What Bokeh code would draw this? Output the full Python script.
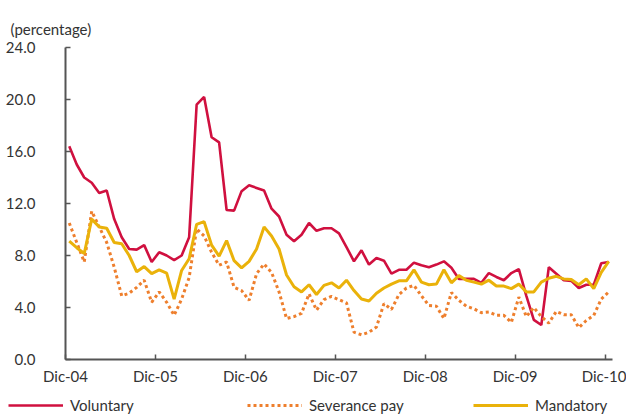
from bokeh.plotting import figure
from bokeh.layouts import column
from bokeh.models import (Range1d, FixedTicker, Legend, LegendItem,
                          ColumnDataSource, NumeralTickFormatter)
from bokeh.embed import file_html
from bokeh.resources import INLINE

# ---- data (monthly, Dec-2004 .. Dec-2010) ----
tick_labels = ["Dic-04", "Dic-05", "Dic-06", "Dic-07", "Dic-08", "Dic-09", "Dic-10"]
series_names = ["Voluntary", "Severance pay", "Mandatory"]

voluntary = [16.4, 15.0, 14.0, 13.6, 12.8, 13.0, 10.8, 9.4, 8.5, 8.45, 8.8, 7.5,
             8.25, 8.0, 7.65, 8.0, 9.4, 19.6, 20.2, 17.1, 16.7, 11.5, 11.45, 12.95,
             13.4, 13.2, 13.0, 11.6, 11.0, 9.6, 9.1, 9.6, 10.5, 9.9, 10.1, 10.1,
             9.7, 8.65, 7.55, 8.4, 7.3, 7.8, 7.6, 6.6, 6.9, 6.9, 7.45, 7.25,
             7.1, 7.3, 7.55, 7.05, 6.2, 6.2, 6.2, 5.9, 6.65, 6.35, 6.1, 6.65,
             6.95, 4.9, 3.05, 2.65, 7.1, 6.6, 6.1, 6.05, 5.5, 5.75, 5.75, 7.4,
             7.5]

severance = [10.5, 9.0, 7.5, 11.4, 10.2, 9.0, 7.1, 4.9, 5.1, 5.55, 6.1, 4.4,
             5.2, 4.4, 3.4, 4.65, 6.3, 10.05, 9.5, 8.25, 7.25, 7.5, 5.55, 5.3,
             4.55, 6.6, 7.35, 6.7, 5.2, 3.15, 3.3, 3.55, 5.05, 3.8, 4.6, 4.85,
             4.6, 4.35, 2.1, 1.9, 2.1, 2.5, 4.3, 3.85, 5.0, 5.5, 5.7, 4.9,
             4.15, 4.1, 3.15, 5.15, 4.55, 4.1, 3.9, 3.6, 3.65, 3.4, 3.4, 2.85,
             4.8, 3.3, 4.0, 3.3, 2.8, 3.7, 3.45, 3.45, 2.45, 3.0, 3.4, 4.65,
             5.2]

mandatory = [9.1, 8.6, 8.15, 10.8, 10.2, 10.1, 9.0, 8.9, 8.0, 6.75, 7.15, 6.6,
             6.9, 6.65, 4.65, 6.85, 7.75, 10.4, 10.6, 8.8, 7.95, 9.15, 7.6, 7.05,
             7.55, 8.5, 10.2, 9.5, 8.5, 6.5, 5.6, 5.2, 5.75, 5.0, 5.7, 5.9,
             5.5, 6.1, 5.3, 4.65, 4.5, 5.1, 5.5, 5.8, 6.05, 6.05, 6.9, 5.95,
             5.75, 5.8, 6.9, 5.9, 6.45, 6.1, 5.95, 5.8, 6.1, 5.65, 5.65, 5.45,
             5.8, 5.2, 5.2, 5.95, 6.25, 6.4, 6.2, 6.15, 5.75, 6.2, 5.45, 6.7,
             7.55]

n = len(voluntary)
xs = [i + 0.5 for i in range(n)]   # points centred between category boundaries

src = ColumnDataSource(dict(x=xs, vol=voluntary, sev=severance, man=mandatory))

FONT = "Lato"
TXT = "#333333"
AX = "#555555"
STYLES = [dict(line_color="#D0103F", line_width=2.6),
          dict(line_color="#EE7F2D", line_width=3, line_dash="3 3"),
          dict(line_color="#EAB20A", line_width=3)]
COLS = ["vol", "sev", "man"]

# ---------------- main chart ----------------
p = figure(width=626, height=392, x_range=Range1d(0, 73), y_range=Range1d(0, 24),
           output_backend="svg", toolbar_location=None,
           min_border_left=65, min_border_right=14, min_border_top=47,
           min_border_bottom=33)
p.frame_align = False
p.outline_line_color = None
p.xgrid.grid_line_color = None
p.ygrid.grid_line_color = None

p.title.text = "(percentage)"
p.title.align = "left"
p.title.offset = -55
p.title.standoff = 20
p.title.text_font = FONT
p.title.text_font_size = "15px"
p.title.text_font_style = "normal"
p.title.text_color = TXT

for col, st in zip(COLS, STYLES):
    p.line("x", col, source=src, **st)

p.xaxis.ticker = FixedTicker(ticks=[12 * k for k in range(len(tick_labels))])
p.xaxis.major_label_overrides = {12 * k: lab for k, lab in enumerate(tick_labels)}
p.yaxis.ticker = FixedTicker(ticks=[0, 4, 8, 12, 16, 20, 24])
p.yaxis.formatter = NumeralTickFormatter(format="0.0")

for ax in (p.xaxis[0], p.yaxis[0]):
    ax.axis_line_color = AX
    ax.axis_line_width = 2
    ax.major_tick_line_color = AX
    ax.major_tick_line_width = 1.5
    ax.minor_tick_line_color = None
    ax.major_tick_out = 0
    ax.major_tick_in = 5
    ax.major_label_text_font = FONT
    ax.major_label_text_font_size = "15px"
    ax.major_label_text_color = TXT
p.yaxis.major_label_standoff = 30
p.xaxis.major_label_standoff = 7

# ---------------- legend strip ----------------
leg = figure(width=626, height=25, x_range=Range1d(0, 73), y_range=Range1d(0, 24),
             output_backend="svg", toolbar_location=None,
             x_axis_location=None, y_axis_location=None, min_border=0)
leg.frame_align = False
leg.outline_line_color = None
leg.xgrid.grid_line_color = None
leg.ygrid.grid_line_color = None

for col, st, name, xloc in zip(COLS, STYLES, series_names, (8, 247, 473)):
    r = leg.line("x", col, source=src, visible=False, **st)
    lg = Legend(items=[LegendItem(label=name, renderers=[r])],
                location=(xloc, 3), padding=0, margin=0,
                border_line_alpha=0, background_fill_alpha=0,
                inactive_fill_alpha=0,
                glyph_width=55, glyph_height=16, label_height=16,
                label_standoff=7, label_text_font=FONT,
                label_text_font_size="15px", label_text_color=TXT)
    leg.add_layout(lg, "center")

layout = column(p, leg, spacing=0)
open("out.html", "w").write(file_html(layout, INLINE))
